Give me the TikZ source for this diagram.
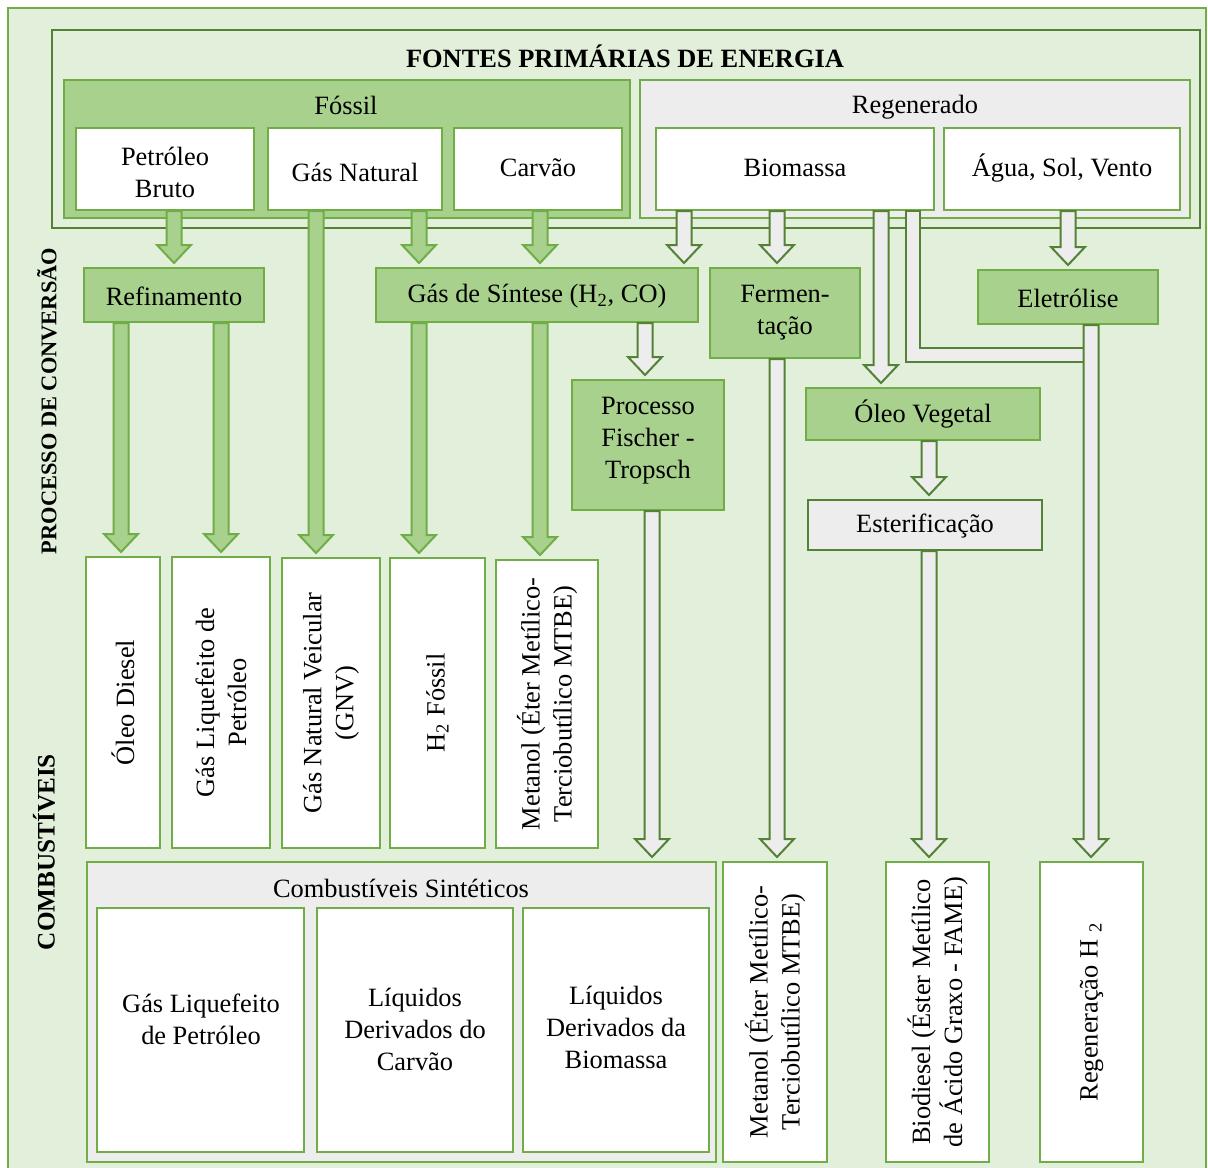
\documentclass[tikz,border=0pt]{standalone}
\usepackage{fontspec}
\setmainfont{Liberation Serif}
\usetikzlibrary{fit,calc}
\definecolor{bgg}{HTML}{E2EFDA}
\definecolor{gline}{HTML}{70AD47}
\definecolor{dline}{HTML}{548235}
\definecolor{gfill}{HTML}{A9D18E}
\definecolor{grayf}{HTML}{EDEDED}
\tikzset{
 every node/.style={font=\fontsize{13.2}{16}\selectfont, text=black},
 wbox/.style={draw=gline, fill=white, line width=1pt, inner sep=0pt},
 gbox/.style={draw=gline, fill=gfill, line width=1pt, inner sep=0pt},
 ybox/.style={draw=gline, fill=grayf, line width=1pt, inner sep=0pt},
 garr/.style={draw=gline, fill=gfill, line width=1pt},
 yarr/.style={draw=dline, fill=grayf, line width=1pt},
 lbl/.style={inner sep=0pt, align=center},
 side/.style={inner sep=0pt, rotate=90, font=\bfseries\fontsize{11.2}{13}\selectfont},
}
% #1 style, #2 x (px), #3 source node, #4 target node
\newcommand\blockarr[4]{%
  \draw[#1] let \p1=(#3.south), \p2=(#4.north), \p3=(#2,0) in
   ({\x3-3.75pt},\y1) -- ({\x3-3.75pt},{\y2+11pt}) -- ({\x3-8.5pt},{\y2+11pt})
   -- (\x3,{\y2+2pt}) -- ({\x3+8.5pt},{\y2+11pt}) -- ({\x3+3.75pt},{\y2+11pt})
   -- ({\x3+3.75pt},\y1) -- cycle;}
\begin{document}
\begin{tikzpicture}[x=0.5pt,y=-0.5pt]
\fill[white] (0,0) rectangle (1208,1167);
\clip (0,0) rectangle (1208,1167);
\node[draw=gline, fill=bgg, line width=1pt, inner sep=0pt, fit={(8,8) (1206,1185)}] (outer) {};

% primary sources
\node[draw=dline, line width=1.25pt, inner sep=0pt, fit={(52,30) (1200,228)}] (prim) {};
\node[lbl, font=\bfseries\fontsize{13.2}{16}\selectfont] (title) at (625,56) {FONTES PRIMÁRIAS DE ENERGIA};
\node[gbox, fit={(64,80) (630,218)}] (fos) {};
\node[lbl] (fosl) at (346,105) {Fóssil};
\node[ybox, fit={(640,80) (1190,218)}] (reg) {};
\node[lbl] (regl) at (915,107) {Regenerado};
\node[wbox, fit={(76,128) (254,210)}] (pet) {};
\node[wbox, fit={(268,128) (442,210)}] (gn) {};
\node[wbox, fit={(454,128) (622,210)}] (car) {};
\node[wbox, fit={(656,128) (934,210)}] (bio) {};
\node[wbox, fit={(944,128) (1180,210)}] (agua) {};
\node[lbl] (pett) at (165,172) {Petróleo\\Bruto};
\node[lbl] (gnt) at (355,172) {Gás Natural};
\node[lbl] (cart) at (538,168) {Carvão};
\node[lbl] (biot) at (795,168) {Biomassa};
\node[lbl] (aguat) at (1062,168) {Água, Sol, Vento};

% side labels
\node[side] (pc) at (47,401) {PROCESSO DE CONVERSÃO};
\node[side, font=\bfseries\fontsize{12.6}{15}\selectfont] (cb) at (44,852) {COMBUSTÍVEIS};

% conversion processes
\node[gbox, fit={(84,268) (264,322)}] (ref) {};
\node[gbox, fit={(376,268) (698,322)}] (gs) {};
\node[gbox, fit={(710,268) (860,358)}] (fer) {};
\node[gbox, fit={(978,270) (1158,324)}] (ele) {};
\node[gbox, fit={(572,380) (724,510)}] (ft) {};
\node[gbox, fit={(806,388) (1040,440)}] (ov) {};
\node[draw=dline, fill=grayf, line width=1pt, inner sep=0pt, fit={(808,500) (1042,550)}] (est) {};
\node[lbl] (reft) at (174,296) {Refinamento};
\node[lbl] (gst) at (537,296) {Gás de Síntese (H\textsubscript{2}, CO)};
\node[lbl] (fert) at (785,313) {Fermen-\\tação};
\node[lbl] (elet) at (1068,298) {Eletrólise};
\node[lbl] (ftt) at (648,441) {Processo\\Fischer -\\Tropsch};
\node[lbl] (ovt) at (923,414) {Óleo Vegetal};
\node[lbl] (estt) at (925,526) {Esterificação};

% fuels
\node[wbox, fit={(86,557) (160,848)}] (od) {};
\node[wbox, fit={(172,557) (270,848)}] (glp) {};
\node[wbox, fit={(282,558) (380,848)}] (gnv) {};
\node[wbox, fit={(390,558) (485,848)}] (h2) {};
\node[wbox, fit={(496,560) (598,848)}] (met) {};
\node[lbl, rotate=90] (odt) at (od) {Óleo Diesel};
\node[lbl, rotate=90] (glpt) at (glp) {Gás Liquefeito de\\Petróleo};
\node[lbl, rotate=90] (gnvt) at (gnv) {Gás Natural Veicular\\(GNV)};
\node[lbl, rotate=90] (h2t) at (h2) {H\textsubscript{2} Fóssil};
\node[lbl, rotate=90] (mett) at (met) {Metanol (Éter Metílico-\\Terciobutílico MTBE)};

\node[ybox, fit={(87,862) (716,1162)}] (cs) {};
\node[lbl] (csl) at (401,888) {Combustíveis Sintéticos};
\node[wbox, fit={(97,908) (304,1152)}] (cs1) {};
\node[wbox, fit={(317,908) (513,1152)}] (cs2) {};
\node[wbox, fit={(523,908) (709,1152)}] (cs3) {};
\node[lbl] (cs1t) at (201,1019) {Gás Liquefeito\\de Petróleo};
\node[lbl] (cs2t) at (415,1029) {Líquidos\\Derivados do\\Carvão};
\node[lbl] (cs3t) at (616,1027) {Líquidos\\Derivados da\\Biomassa};
\node[wbox, fit={(723,862) (827,1162)}] (met2) {};
\node[wbox, fit={(886,862) (989,1162)}] (bd) {};
\node[wbox, fit={(1040,862) (1143,1162)}] (rh) {};
\node[lbl, rotate=90] (met2t) at (met2) {Metanol (Éter Metílico-\\Terciobutílico MTBE)};
\node[lbl, rotate=90] (bdt) at (bd) {Biodiesel (Éster Metílico\\de Ácido Graxo - FAME)};
\node[lbl, rotate=90] (rht) at (rh) {Regeneração H~\textsubscript{2}};

% green arrows
\blockarr{garr}{174}{pet}{ref}
\blockarr{garr}{316}{gn}{gnv}
\blockarr{garr}{419}{gn}{gs}
\blockarr{garr}{540}{car}{gs}
\blockarr{garr}{121}{ref}{od}
\blockarr{garr}{221}{ref}{glp}
\blockarr{garr}{419}{gs}{h2}
\blockarr{garr}{540}{gs}{met}

% gray arrows
\blockarr{yarr}{684}{bio}{gs}
\blockarr{yarr}{777}{bio}{fer}
\blockarr{yarr}{881}{bio}{ov}
\blockarr{yarr}{1068}{agua}{ele}
\blockarr{yarr}{645}{gs}{ft}
\blockarr{yarr}{652}{ft}{cs}
\blockarr{yarr}{777}{fer}{met2}
\blockarr{yarr}{929}{ov}{est}
\blockarr{yarr}{929}{est}{bd}
\coordinate (jn) at (1088,355);
\draw[yarr] let \p1=(bio.south), \p2=(jn) in
  (453pt,\y1) -- (453pt,{\y2-3.5pt}) -- (\x2,{\y2-3.5pt}) -- (\x2,{\y2+3.5pt})
  -- (460pt,{\y2+3.5pt}) -- (460pt,\y1) -- cycle;
\blockarr{yarr}{1091}{ele}{rh}
\end{tikzpicture}
\end{document}
